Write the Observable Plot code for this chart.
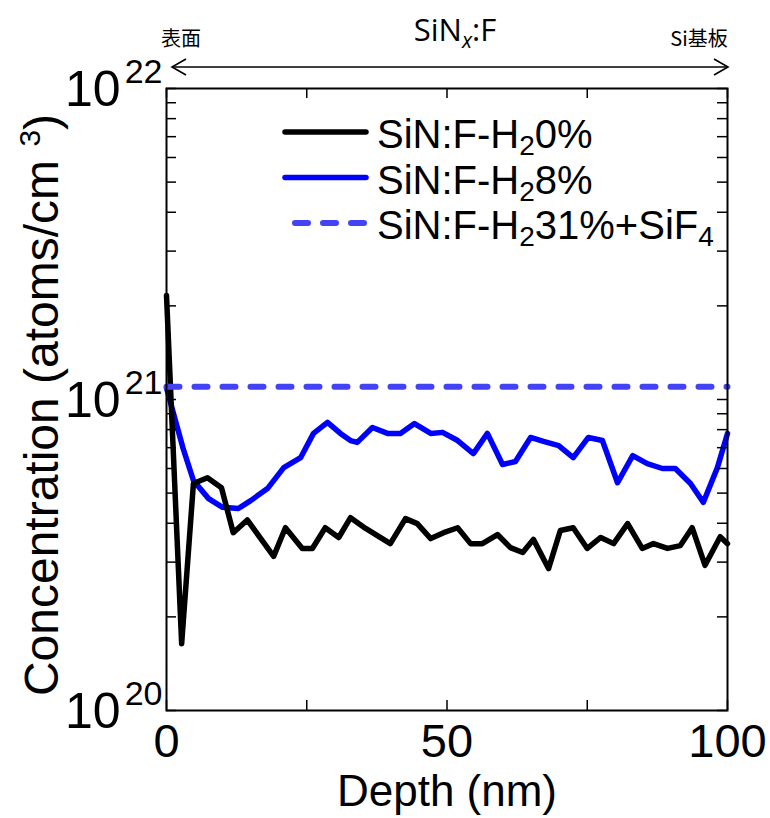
<!DOCTYPE html>
<html><head><meta charset="utf-8">
<script src="https://cdn.jsdelivr.net/npm/d3@7"></script>
<script src="https://cdn.jsdelivr.net/npm/@observablehq/plot@0.6"></script>
<style>
html,body{margin:0;padding:0;background:#fff}
#chart{width:770px;height:818px}
</style>
</head><body><div id="chart"></div>
<script>
// ---- data ----
const depthH2_0 = [0,2.7,4.8,7.3,9.8,11.9,14.4,19.1,21.2,24.2,26.0,28.3,30.7,32.8,35.5,39.9,42.6,44.7,47.1,49.4,51.9,54.2,56.3,59.0,61.3,63.5,65.4,68.1,70.2,72.5,75.0,77.4,79.7,82.2,84.8,86.8,89.3,91.6,93.7,96.0,98.7,100];
const concH2_0  = [2.16e21,1.64e20,5.37e20,5.6e20,5.2e20,3.73e20,4.1e20,3.13e20,3.87e20,3.32e20,3.32e20,3.87e20,3.6e20,4.17e20,3.85e20,3.44e20,4.14e20,3.99e20,3.57e20,3.73e20,3.87e20,3.44e20,3.44e20,3.68e20,3.34e20,3.22e20,3.55e20,2.86e20,3.79e20,3.87e20,3.32e20,3.6e20,3.44e20,3.99e20,3.32e20,3.44e20,3.32e20,3.39e20,3.87e20,2.93e20,3.62e20,3.44e20];
const depthH2_8 = [0,2.9,4.8,7.5,10,12.8,15,18,20.9,23.9,26.2,28.7,31,32.8,34.0,36.7,39.4,41.7,44.2,47.1,49.2,51.9,54.7,57.2,59.9,62.2,64.9,67.2,69.9,72.5,75.2,77.7,80.4,83.1,85.7,88.4,90.7,93.4,95.7,98.2,100];
const concH2_8  = [1.09e21,7.02e20,5.49e20,4.8e20,4.5e20,4.46e20,4.73e20,5.17e20,6.04e20,6.5e20,7.78e20,8.44e20,7.78e20,7.38e20,7.28e20,8.13e20,7.78e20,7.78e20,8.37e20,7.78e20,7.84e20,7.38e20,6.7e20,7.78e20,6.18e20,6.32e20,7.55e20,7.33e20,7.11e20,6.5e20,7.55e20,7.38e20,5.4e20,6.6e20,6.22e20,6.0e20,6.0e20,5.37e20,4.67e20,6.04e20,7.78e20];
const depthH2_31 = [0,100];
const concH2_31  = [1.1e21,1.1e21];
const legendParts = [
  [["SiN:F-H",0],["2",1],["0%",0]],
  [["SiN:F-H",0],["2",1],["8%",0]],
  [["SiN:F-H",0],["2",1],["31%+SiF",0],["4",1]]
];
const xTicks = [0,25,50,75,100];
const xTickLabels = [0,50,100];
const yDecades = [1e20,1e21,1e22];
const yMinor = [2e20,3e20,4e20,5e20,6e20,7e20,8e20,9e20,2e21,3e21,4e21,5e21,6e21,7e21,8e21,9e21];
const xTitle = "Depth (nm)";
const yTitle = "Concentration (atoms/cm ";
const headerLeft = "表面", headerRight = "Si基板";

// ---- build tables ----
const d0 = depthH2_0.map((x,i)=>({x, y: concH2_0[i]}));
const d8 = depthH2_8.map((x,i)=>({x, y: concH2_8[i]}));
const d31 = depthH2_31.map((x,i)=>({x, y: concH2_31[i]}));
const yAll = yDecades.concat(yMinor);

const W=770,H=818,ML=166,MR=43,MT=88,MB=108;
const PW=W-ML-MR, PH=H-MT-MB;
const FONT="'Liberation Sans', Arial, sans-serif";

const chart = Plot.plot({
  width: W, height: H,
  marginLeft: ML, marginRight: MR, marginTop: MT, marginBottom: MB,
  style: {fontFamily: FONT, background: "white", overflow: "visible", color: "black"},
  x: {domain: [0,100], axis: null},
  y: {type: "log", domain: [1e20,1e22], axis: null},
  marks: [
    Plot.line(d8, {x:"x", y:"y", stroke:"#0000ff", strokeWidth:5.5}),
    Plot.line(d0, {x:"x", y:"y", stroke:"#000000", strokeWidth:5.5}),
    Plot.line(d31, {x:"x", y:"y", stroke:"#4343f5", strokeWidth:6, strokeDasharray:"13,15", strokeLinecap:"round"}),
    Plot.tickX(xTicks, {x:d=>d, insetTop: PH-10, stroke:"black", strokeWidth:1.5}),
    Plot.tickX(xTicks, {x:d=>d, insetBottom: PH-10, stroke:"black", strokeWidth:1.5}),
    Plot.tickY(yAll, {y:d=>d, insetRight: PW-10, stroke:"black", strokeWidth:1.5}),
    Plot.tickY(yAll, {y:d=>d, insetLeft: PW-10, stroke:"black", strokeWidth:1.5}),
    Plot.frame({stroke:"black", strokeWidth:2}),
    Plot.text(xTickLabels, {x:d=>d, frameAnchor:"bottom", lineAnchor:"bottom", dy:46, text:d=>String(d), fontSize:47, fill:"black", ariaLabel:"xtick"}),
    Plot.text(yDecades, {y:d=>d, frameAnchor:"left", textAnchor:"end", lineAnchor:"bottom", dx:-46, dy:17, text:()=>"10", fontSize:50, fill:"black", ariaLabel:"ytickbase"}),
    Plot.text(yDecades, {y:d=>d, frameAnchor:"left", textAnchor:"end", lineAnchor:"bottom", dx:-4, dy:-6, text:d=>String(Math.round(Math.log10(d))), fontSize:34, fill:"black", ariaLabel:"ytickexp"})
  ]
});
document.getElementById("chart").appendChild(chart);

const svg = d3.select(chart);
const xs = chart.scale("x");

function squeeze(sel, sx){
  sel.each(function(){
    const x = +(this.getAttribute("x")||0), y = +(this.getAttribute("y")||0);
    const t = this.getAttribute("transform")||"";
    this.setAttribute("transform", `${t} translate(${x},${y}) scale(${sx},1) translate(${-x},${-y})`);
  });
}
squeeze(svg.selectAll('g[aria-label="xtick"] text'), 0.84);
squeeze(svg.selectAll('g[aria-label="ytickbase"] text'), 0.83);
squeeze(svg.selectAll('g[aria-label="ytickexp"] text'), 0.9);

// axis titles
svg.append("text").attr("x", 447).attr("y", 806).attr("text-anchor","middle")
  .attr("font-family", FONT).attr("font-size", 44).attr("fill","black").text(xTitle);
const yt = svg.append("text").attr("transform","translate(58,405) rotate(-90)")
  .attr("text-anchor","middle").attr("font-family",FONT).attr("font-size",48).attr("fill","black");
yt.append("tspan").text(yTitle);
yt.append("tspan").attr("font-size",30).attr("dy",-18).text("3");
yt.append("tspan").attr("dy",18).text(")");

// legend
const styles = [
  {stroke:"#000000", w:5.5, dash:null},
  {stroke:"#0000ff", w:5.5, dash:null},
  {stroke:"#4343f5", w:6, dash:"13,15"}
];
legendParts.forEach((parts,i)=>{
  const y = 132 + i*45.5;
  const s = styles[i];
  const ln = svg.append("line").attr("x1", s.dash?295:285).attr("x2",366).attr("y1",y).attr("y2",y)
    .attr("stroke",s.stroke).attr("stroke-width",s.w).attr("stroke-linecap","round");
  if (s.dash) ln.attr("stroke-dasharray", s.dash);
  const t = svg.append("text").attr("x",377).attr("y",y+16).attr("text-anchor","start").attr("font-family",FONT)
    .attr("font-size",40).attr("fill","black");
  let shifted = false;
  parts.forEach(([txt,sub])=>{
    const sp = t.append("tspan").text(txt);
    if (sub){ sp.attr("font-size",28).attr("dy",7); shifted = true; }
    else if (shifted){ sp.attr("dy",-7); shifted = false; }
  });
});

// header annotation
const HF = "'Open Sans','Noto Sans',sans-serif";
const CJK = "'Noto Sans CJK JP','Noto Sans CJK SC',sans-serif";
svg.append("text").attr("x",181).attr("y",46).attr("text-anchor","middle").attr("font-family",CJK)
  .attr("font-size",20).attr("fill","black").text(headerLeft);
svg.append("text").attr("x",699).attr("y",46).attr("text-anchor","middle").attr("font-family",CJK)
  .attr("font-size",20).attr("fill","black").text(headerRight);
const ht = svg.append("text").attr("x",455).attr("y",41).attr("text-anchor","middle").attr("font-family",HF)
  .attr("font-size",31).attr("fill","black");
ht.append("tspan").text("SiN");
ht.append("tspan").attr("font-size",21).attr("font-style","italic").attr("dy",7).text("x");
ht.append("tspan").attr("dy",-7).text(":F");
const ay = 67, ax1 = xs.apply(0)+6, ax2 = xs.apply(100)+1;
const ag = svg.append("g").attr("stroke","black").attr("stroke-width",1.6).attr("fill","none");
ag.append("line").attr("x1",ax1).attr("x2",ax2).attr("y1",ay).attr("y2",ay);
ag.append("path").attr("d",`M${ax1+14},${ay-8}L${ax1},${ay}L${ax1+14},${ay+8}`);
ag.append("path").attr("d",`M${ax2-14},${ay-8}L${ax2},${ay}L${ax2-14},${ay+8}`);
</script></body></html>
